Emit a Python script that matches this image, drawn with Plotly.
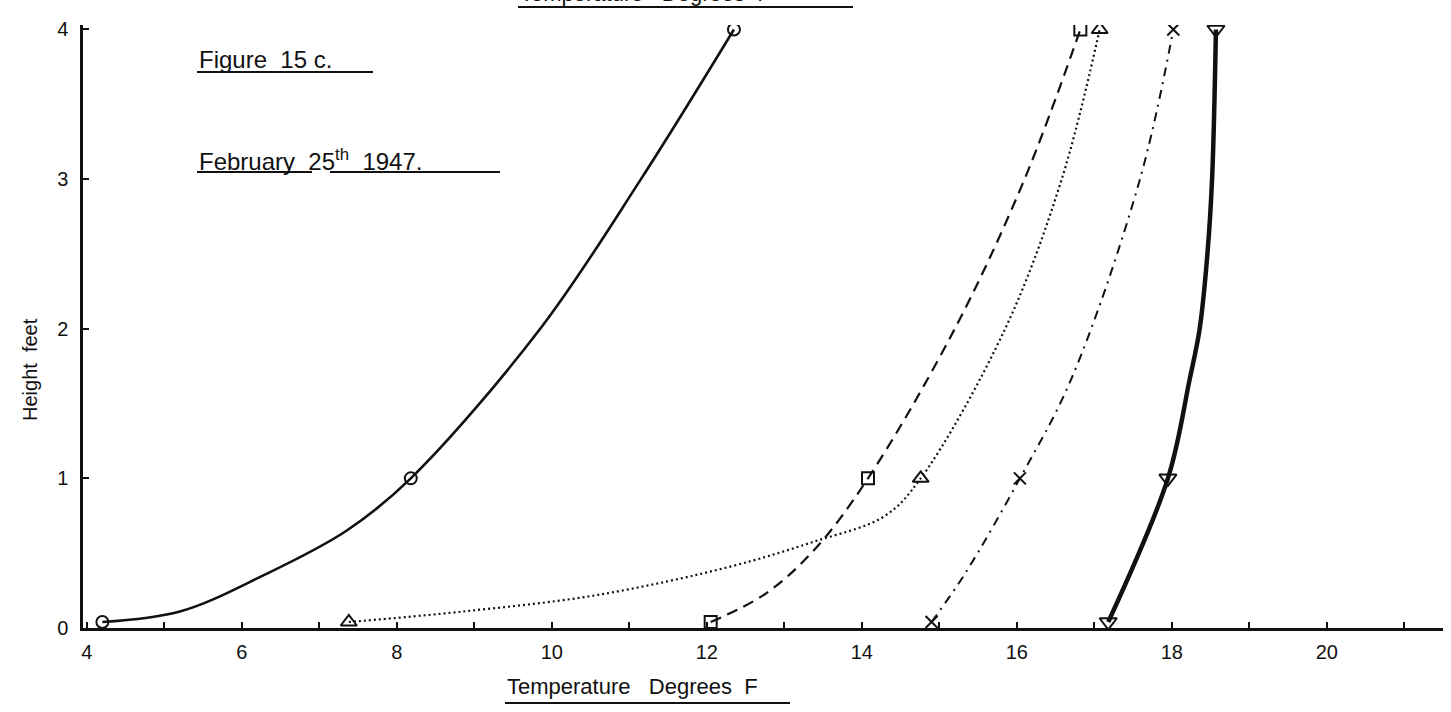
import plotly.graph_objects as go

# ---- data (temperature in degrees F, height in feet) ----
heights = [0.04, 1.0, 4.0]
temp_circle = [4.2, 8.18, 12.35]
temp_square = [12.05, 14.08, 16.82]
temp_triangle = [7.38, 14.76, 17.07]
temp_cross = [14.9, 16.04, 18.02]
temp_tridown = [17.18, 17.95, 18.57]

curve_circle_T = [4.2, 5.2, 6.27, 7.35, 8.18, 9.85, 11.15, 12.35]
curve_circle_H = [0.04, 0.11, 0.35, 0.65, 1.0, 2.0, 3.0, 4.0]
curve_square_T = [12.05, 12.76, 13.4, 14.08, 15.2, 16.1, 16.82]
curve_square_H = [0.04, 0.23, 0.53, 1.0, 2.0, 3.0, 4.0]
curve_tri_T = [7.38, 8.85, 10.58, 12.3, 13.37, 14.3, 14.76, 15.85, 16.58, 17.07]
curve_tri_H = [0.04, 0.11, 0.22, 0.41, 0.575, 0.75, 1.0, 2.0, 3.0, 4.0]
curve_cross_T = [14.9, 15.34, 16.04, 16.7, 17.59, 18.02]
curve_cross_H = [0.04, 0.37, 1.0, 1.66, 3.0, 4.0]
curve_tridown_T = [17.18, 17.95, 18.23, 18.36, 18.46, 18.52, 18.57]
curve_tridown_H = [0.04, 1.0, 1.66, 2.0, 2.5, 3.0, 4.0]

x_tick_vals = [4, 6, 8, 10, 12, 14, 16, 18, 20]
y_tick_vals = [0, 1, 2, 3, 4]

W, H = 1451, 712
ML, MR, MT, MB = 83, 8, 25, 84
PW, PH = W - ML - MR, H - MT - MB


def px(x):
    return (x - ML) / PW


def py(y):
    return (H - MB - y) / PH


FONT = "Liberation Sans"
INK = "#111111"

fig = go.Figure()

series = [
    (curve_circle_T, curve_circle_H, temp_circle, "circle-open", 12, dict(width=2.6, dash="solid")),
    (curve_square_T, curve_square_H, temp_square, "square-open", 12, dict(width=2.2, dash="11px,7px")),
    (curve_tri_T, curve_tri_H, temp_triangle, "triangle-up-open", 14, dict(width=2.2, dash="2px,3px")),
    (curve_cross_T, curve_cross_H, temp_cross, "x-thin-open", 12, dict(width=2.0, dash="9px,6px,2px,6px")),
    (curve_tridown_T, curve_tridown_H, temp_tridown, "triangle-down-open", 15, dict(width=4.5, dash="solid")),
]

for cT, cH, mT, sym, size, line in series:
    fig.add_trace(go.Scatter(
        x=cT, y=cH, mode="lines",
        line=dict(color=INK, shape="spline", smoothing=1.0, **line),
        showlegend=False, hoverinfo="skip"))
    fig.add_trace(go.Scatter(
        x=mT, y=heights, mode="markers",
        marker=dict(symbol=sym, size=size, color=INK, line=dict(width=2, color=INK)),
        showlegend=False))

fig.update_xaxes(
    range=[3.95, 21.5], tickvals=x_tick_vals, ticktext=[str(v) for v in x_tick_vals],
    ticks="inside", ticklen=6, tickwidth=1.5, tickcolor=INK,
    minor=dict(dtick=1, tick0=0, ticks="inside", ticklen=6, tickwidth=1.5, tickcolor=INK),
    showline=True, linewidth=3, linecolor=INK, showgrid=False, zeroline=False,
    tickfont=dict(family=FONT, size=20, color=INK), ticklabelstandoff=4,
)
fig.update_yaxes(
    range=[0, 4.03], tickvals=y_tick_vals, ticktext=[str(v) for v in y_tick_vals],
    ticks="inside", ticklen=6, tickwidth=1.5, tickcolor=INK,
    showline=True, linewidth=2.5, linecolor=INK, showgrid=False, zeroline=False,
    tickfont=dict(family=FONT, size=20, color=INK), ticklabelstandoff=8,
)

annotations = [
    dict(text="Figure  15 c.", x=px(197), y=py(60), xanchor="left", yanchor="middle", size=24),
    dict(text="February  25<sup>th</sup>  1947.", x=px(197), y=py(160), xanchor="left", yanchor="middle", size=24),
    dict(text="Temperature   Degrees  F", x=px(505), y=py(686), xanchor="left", yanchor="middle", size=22),
    dict(text="Temperature   Degrees  F", x=px(518), y=py(-6), xanchor="left", yanchor="middle", size=22),
    dict(text="Height  feet", x=px(30), y=py(370), xanchor="center", yanchor="middle", size=20, angle=-90),
]
for a in annotations:
    fig.add_annotation(
        text=a["text"], x=a["x"], y=a["y"], xref="paper", yref="paper",
        xanchor=a["xanchor"], yanchor=a["yanchor"], showarrow=False,
        textangle=a.get("angle", 0),
        font=dict(family=FONT, size=a["size"], color=INK))

underlines = [(197, 373, 72), (197, 312, 172), (330, 500, 172), (505, 790, 703), (518, 853, 7)]
for x0, x1, yy in underlines:
    fig.add_shape(type="line", xref="paper", yref="paper",
                  x0=px(x0), x1=px(x1), y0=py(yy), y1=py(yy),
                  line=dict(color=INK, width=1.8))

fig.update_layout(
    width=W, height=H,
    margin=dict(l=ML, r=MR, t=MT, b=MB),
    paper_bgcolor="white", plot_bgcolor="white",
    showlegend=False,
)

fig.write_html("out.html")
